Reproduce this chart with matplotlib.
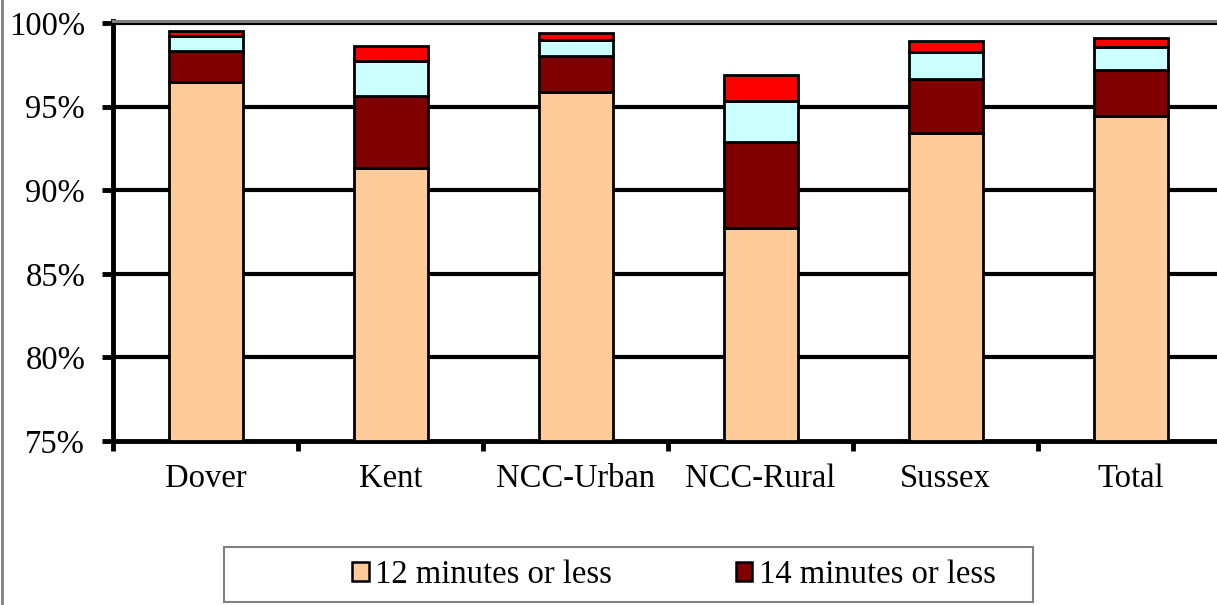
import matplotlib
matplotlib.use("Agg")
import matplotlib.pyplot as plt
import numpy as np
from matplotlib.patches import Patch
from matplotlib.lines import Line2D

plt.rcParams['font.family'] = ['Liberation Serif', 'DejaVu Serif']

# share of calls answered within each time band (cumulative, %)
areas = ['Dover', 'Kent', 'NCC-Urban', 'NCC-Rural', 'Sussex', 'Total']
within_12 = [96.45, 91.35, 95.9, 87.75, 93.4, 94.45]
within_14 = [98.3, 95.65, 98.05, 92.9, 96.65, 97.2]
within_16 = [99.2, 97.7, 99.0, 95.35, 98.25, 98.55]
within_18 = [99.55, 98.65, 99.4, 96.9, 98.95, 99.1]

series = [within_12, within_14, within_16, within_18]
colours = ['#FFCC99', '#800000', '#CCFFFF', '#FF0000']
base = 75
fs = 23.5

fig = plt.figure(figsize=(12.17, 6.05), dpi=100)
ax = fig.add_axes([113 / 1217, 164 / 605, 1110 / 1217, 420 / 605])

x = np.arange(len(areas))
prev = [base] * len(areas)
for vals, col in zip(series, colours):
    heights = [v - p for v, p in zip(vals, prev)]
    ax.bar(x, heights, bottom=prev, width=0.4, color=col,
           edgecolor='black', linewidth=2.0, zorder=3)
    prev = vals

ax.set_xlim(-0.5, len(areas) - 0.5)
ax.set_ylim(75, 100.12)
ax.set_yticks([75, 80, 85, 90, 95, 100])
ax.set_yticklabels(['75%', '80%', '85%', '90%', '95%', '100%'])
for yv in [80, 85, 90, 95, 100]:
    ax.axhline(yv, color='black', linewidth=3.0, zorder=1)

# category labels sit between the boundary ticks
ax.set_xticks(np.arange(-0.5, len(areas), 1.0))
ax.set_xticklabels([])
ax.set_xticks(x, minor=True)
ax.set_xticklabels(areas, minor=True)
ax.tick_params(axis='x', which='minor', length=0, pad=16, labelsize=fs)
ax.tick_params(axis='x', which='major', length=7, width=3.5, direction='out')
ax.tick_params(axis='y', length=8, width=3.5, labelsize=fs, pad=12)

for side in ['left', 'bottom']:
    ax.spines[side].set_linewidth(3.5)
ax.spines['right'].set_visible(False)
ax.spines['top'].set_color('#808080')
ax.spines['top'].set_linewidth(2.2)

handles = [Patch(facecolor=colours[0], edgecolor='black', linewidth=1.8),
           Patch(facecolor=colours[1], edgecolor='black', linewidth=1.8)]
leg = fig.legend(handles, ['12 minutes or less', '14 minutes or less'],
                 loc='center', bbox_to_anchor=(674 / 1217, 1 - 575 / 605),
                 ncol=2, fontsize=fs, frameon=False, borderpad=0,
                 handlelength=0.5, handleheight=0.5, handletextpad=0.2,
                 columnspacing=3.8)

# legend frame drawn separately so it can span the full box width
fig.add_artist(plt.Rectangle((224 / 1217, 1 - 602 / 605), 809 / 1217, 55 / 605,
                             transform=fig.transFigure, fill=False,
                             edgecolor='#808080', linewidth=1.5))
fig.add_artist(Line2D([2 / 1217, 2 / 1217], [0, 1], transform=fig.transFigure,
                      color='#808080', linewidth=2))

fig.savefig('out.png', dpi=100)
